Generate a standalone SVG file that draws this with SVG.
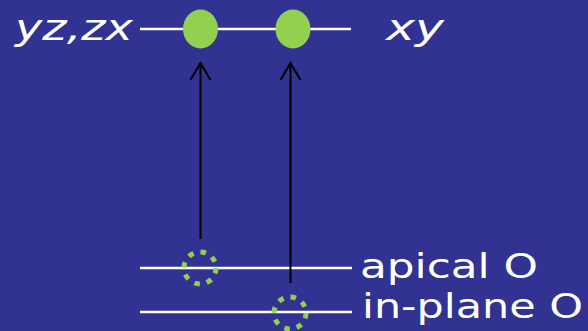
<svg xmlns="http://www.w3.org/2000/svg" width="588" height="331" viewBox="0 0 588 331">
<defs>
<style>
.ln{stroke:#ffffff;stroke-width:2.5;fill:none}
.ar{stroke:#000000;stroke-width:2;fill:none}
.lbl{fill:#ffffff;font-family:"Comic Sans MS","DejaVu Sans",sans-serif}
.dot{fill:#92d050}
.ring{fill:none;stroke:#92d050;stroke-width:5;stroke-dasharray:5.5 7.07}
</style>
</defs>
<rect width="588" height="331" fill="#313291"/>
<g id="levels">
<line class="ln" x1="140" y1="29" x2="351" y2="29"/>
<line class="ln" x1="140" y1="268" x2="352" y2="268"/>
<line class="ln" x1="140" y1="312" x2="352" y2="312"/>
</g>
<g id="connectors">
<line class="ar" x1="200.5" y1="239" x2="200.5" y2="63"/>
<path class="ar" d="M190.5,80 L200.5,63 L210.5,80"/>
<line class="ar" x1="290.5" y1="283" x2="290.5" y2="63"/>
<path class="ar" d="M280.5,80 L290.5,63 L300.5,80"/>
</g>
<g id="node-yz-zx"><ellipse class="dot" cx="200.5" cy="29" rx="17.5" ry="19.5"/></g>
<g id="node-xy"><ellipse class="dot" cx="293" cy="29" rx="17.5" ry="19.5"/></g>
<g id="node-apical"><circle class="ring" cx="200" cy="268" r="16"/></g>
<g id="node-inplane"><circle class="ring" cx="290" cy="313" r="16"/></g>
<g id="labels">
<text class="lbl" x="15" y="40" font-size="36" font-style="italic" textLength="118" lengthAdjust="spacingAndGlyphs">yz,zx</text>
<text class="lbl" x="386" y="40" font-size="36" font-style="italic" textLength="58" lengthAdjust="spacingAndGlyphs">xy</text>
<text class="lbl" x="360" y="278" font-size="34" textLength="178" lengthAdjust="spacingAndGlyphs">apical O</text>
<text class="lbl" x="362" y="318" font-size="34" textLength="221" lengthAdjust="spacingAndGlyphs">in-plane O</text>
</g>
</svg>
